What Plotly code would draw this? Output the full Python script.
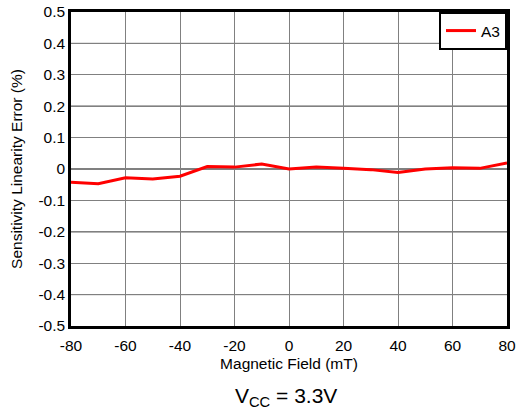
import plotly.graph_objects as go

field_mT = [-80, -70, -60, -50, -40, -30, -20, -10, 0, 10, 20, 30, 40, 50, 60, 70, 80]
error_pct = [-0.042, -0.047, -0.028, -0.032, -0.023, 0.008, 0.006, 0.016, 0.0,
             0.006, 0.002, -0.002, -0.011, 0.0, 0.004, 0.002, 0.019]
black_x = [-60, -20, 20, 60]
black_y = [-0.4, -0.2, 0, 0.2, 0.4]
x_ticks = [-80, -60, -40, -20, 0, 20, 40, 60, 80]
x_labels = ["-80", "-60", "-40", "-20", "0", "20", "40", "60", "80"]
y_ticks = [-0.5, -0.4, -0.3, -0.2, -0.1, 0, 0.1, 0.2, 0.3, 0.4, 0.5]
y_labels = ["-0.5", "-0.4", "-0.3", "-0.2", "-0.1", "0", "0.1", "0.2", "0.3", "0.4", "0.5"]

font = "Liberation Sans, Arial, sans-serif"

fig = go.Figure()
fig.add_trace(go.Scatter(x=field_mT, y=error_pct, mode="lines", name="A3",
                         line=dict(color="#ff0000", width=3)))

shapes = []
for xv in black_x:
    shapes.append(dict(type="line", xref="x", yref="paper", x0=xv, x1=xv, y0=0, y1=1,
                       line=dict(color="black", width=1), layer="below"))
for yv in black_y:
    shapes.append(dict(type="line", xref="paper", yref="y", x0=0, x1=1, y0=yv, y1=yv,
                       line=dict(color="black", width=1), layer="below"))

fig.update_layout(
    width=517, height=413,
    margin=dict(l=71, r=10, t=12, b=87),
    paper_bgcolor="white", plot_bgcolor="white",
    font=dict(family=font, size=15, color="black"),
    shapes=shapes,
    showlegend=True,
    legend=dict(x=1, y=1, xanchor="right", yanchor="top",
                bordercolor="black", borderwidth=2, bgcolor="white",
                font=dict(size=15.5)),
    xaxis=dict(range=[-80, 80], tickvals=x_ticks, ticktext=x_labels,
               gridcolor="#808080", gridwidth=1,
               showline=True, linecolor="black", linewidth=2.5, mirror=True,
               zeroline=False, ticks="", tickfont=dict(size=15.5),
               ticklabeloverflow="allow", automargin=False, ticklabelstandoff=4,
               title=dict(text="Magnetic Field (mT)", standoff=5,
                          font=dict(size=15.5))),
    yaxis=dict(range=[-0.5, 0.5], tickvals=y_ticks, ticktext=y_labels,
               gridcolor="#808080", gridwidth=1,
               showline=True, linecolor="black", linewidth=2.5, mirror=True,
               zeroline=False, ticks="", tickfont=dict(size=15.5),
               ticklabeloverflow="allow", automargin=False,
               title=dict(text="Sensitivity Linearity Error (%)", standoff=13,
                          font=dict(size=15.5))),
    annotations=[dict(text="V<sub>CC</sub> = 3.3V", xref="paper", yref="paper",
                      x=0.492, y=-0.225, xanchor="center", yanchor="middle",
                      showarrow=False, font=dict(size=21))],
)

fig.write_html("out.html", post_script="document.body.style.margin='0';",
               config={"displayModeBar": False})
